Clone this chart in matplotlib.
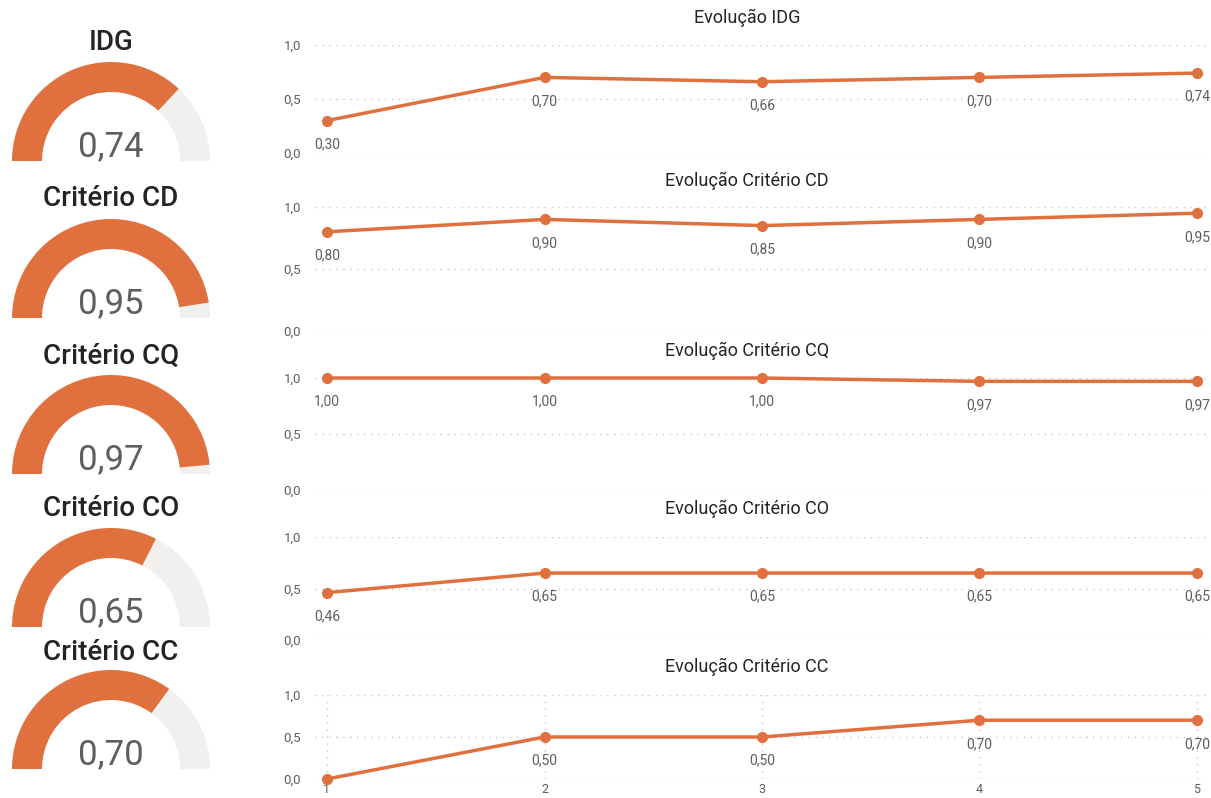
import matplotlib
matplotlib.use("Agg")
import matplotlib.pyplot as plt
from matplotlib.patches import Wedge

ORANGE = "#E0703E"
TRACK = "#F1F0EE"
GREY = "#605E5C"
DARK = "#252423"

plt.rcParams["font.family"] = ["Roboto", "DejaVu Sans"]

# data
periods = [1, 2, 3, 4, 5]
idg = [0.30, 0.70, 0.66, 0.70, 0.74]
crit_cd = [0.80, 0.90, 0.85, 0.90, 0.95]
crit_cq = [1.00, 1.00, 1.00, 0.97, 0.97]
crit_co = [0.46, 0.65, 0.65, 0.65, 0.65]
crit_cc = [0.00, 0.50, 0.50, 0.70, 0.70]

gauge_titles = ["IDG", "Critério CD", "Critério CQ", "Critério CO", "Critério CC"]
gauge_values = [0.74, 0.95, 0.97, 0.65, 0.70]
line_titles = ["Evolução IDG", "Evolução Critério CD", "Evolução Critério CQ",
               "Evolução Critério CO", "Evolução Critério CC"]
series = [idg, crit_cd, crit_cq, crit_co, crit_cc]

W, H = 1211, 798
fig = plt.figure(figsize=(W / 100, H / 100), dpi=100)


def fmt(v, nd=2):
    return f"{v:.{nd}f}".replace(".", ",")


# left column: gauges, drawn in pixel-like units
gax = fig.add_axes([0, 0, 250 / W, 1])
gax.set_xlim(0, 250)
gax.set_ylim(0, H)
gax.axis("off")

gauge_base = [161, 318, 474, 627, 769]   # pixel y of gauge baseline
title_y = [43, 199, 356, 509, 652]
cx, R, width = 111, 99, 30
for t, v, by, ty in zip(gauge_titles, gauge_values, gauge_base, title_y):
    cy = H - by
    split = 180 - 180 * v
    gax.add_patch(Wedge((cx, cy), R, 0, split, width=width, color=TRACK, lw=0))
    gax.add_patch(Wedge((cx, cy), R, split, 180, width=width, color=ORANGE, lw=0))
    gax.text(cx, H - ty, t, ha="center", va="center", fontsize=20,
             color=DARK, weight="medium")
    gax.text(cx, cy + 5, fmt(v), ha="center", va="baseline", fontsize=25,
             color=GREY, fontstretch="condensed",
             family=["DejaVu Sans Condensed", "Liberation Sans Narrow", "Roboto"])

# right column: line charts (pixel extents: y of 1.0 and 0.0 gridlines)
extents = [(45, 153), (207, 331), (378, 490), (537, 640), (695, 779)]
title_pix = [18, 181, 351, 509, 667]
left_px, right_px = 315, 1209
pad = 12 / ((1197 - 327) / 4)

for i, (s, title, (top, bot), tpy) in enumerate(zip(series, line_titles, extents, title_pix)):
    ax = fig.add_axes([left_px / W, 1 - bot / H, (right_px - left_px) / W, (bot - top) / H])
    ax.plot(periods, s, color=ORANGE, lw=2.5, marker="o", ms=7, clip_on=False, zorder=3)
    for x, y in zip(periods, s):
        if y <= 0:
            continue  # no room for a label under the baseline
        ax.annotate(fmt(y), (x, y), xytext=(0, -12), textcoords="offset points",
                    ha="center", va="top", fontsize=10, color=GREY)
    ax.set_xlim(1 - pad, 5 + pad)
    ax.set_ylim(0, 1)
    ax.set_yticks([0, 0.5, 1.0])
    ax.set_yticklabels([fmt(t, 1) for t in [0, 0.5, 1.0]], fontsize=9.5, color=GREY)
    ax.grid(axis="y", color="#C8C6C4", ls=(0, (1, 4)), lw=1)
    for sp in ax.spines.values():
        sp.set_visible(False)
    ax.tick_params(length=0, pad=10)
    if i == len(series) - 1:
        ax.set_xticks(periods)
        ax.set_xticklabels([str(p) for p in periods], fontsize=9, color=GREY)
        ax.tick_params(axis="x", pad=3)
        ax.grid(axis="x", color="#C8C6C4", ls=(0, (1, 4)), lw=1)
    else:
        ax.set_xticks([])
    fig.text(747 / W, 1 - tpy / H, title, ha="center", va="center",
             fontsize=13, color=DARK)

fig.savefig("out.png", dpi=100)
